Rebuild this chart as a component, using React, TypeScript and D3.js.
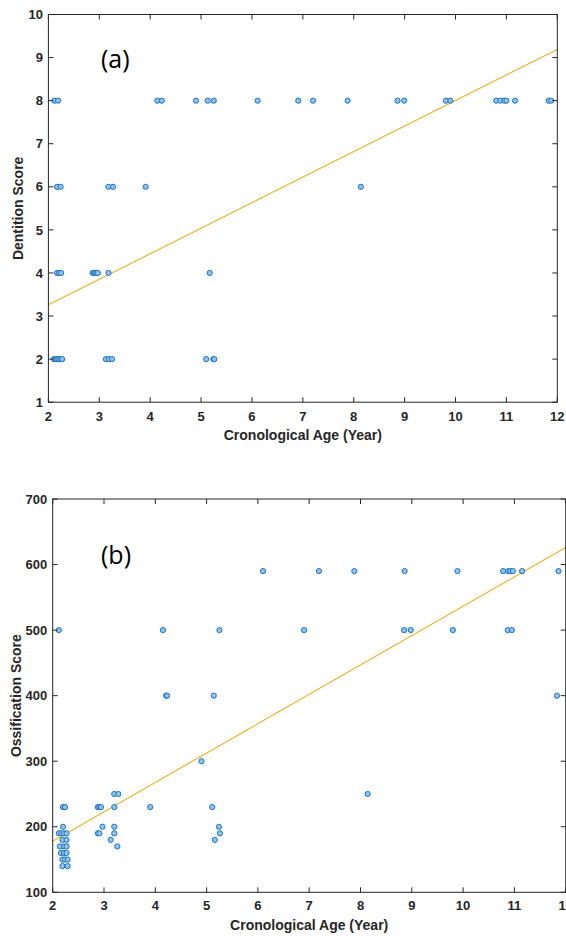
import React from "react";
import * as d3 from "d3";

// Panel (a): dentition score levels and the ages observed at each level
const dentitionLevels = [8, 6, 4, 2];
const dentitionAgesAt8 = [2.12, 2.19, 4.14, 4.23, 4.9, 5.13, 5.25, 6.11, 6.91, 7.2, 7.88, 8.86, 8.99, 9.81, 9.9, 10.8, 10.88, 10.96, 11.0, 11.17, 11.83, 11.88];
const dentitionAgesAt6 = [2.17, 2.24, 3.18, 3.27, 3.91, 8.14];
const dentitionAgesAt4 = [2.17, 2.21, 2.25, 2.87, 2.9, 2.92, 2.94, 2.97, 3.18, 5.17];
const dentitionAgesAt2 = [2.11, 2.14, 2.17, 2.2, 2.24, 2.27, 3.13, 3.19, 3.25, 5.1, 5.24, 5.26];

// Panel (b): ossification score levels and the ages observed at each level
const ossificationLevels = [590, 500, 400, 300, 250, 230, 200, 190, 180, 170, 160, 150, 140];
const ossificationAges = [
  [6.1, 7.19, 7.88, 8.86, 9.89, 10.78, 10.88, 10.92, 10.97, 11.15, 11.86],
  [2.12, 4.15, 5.25, 6.9, 8.85, 8.98, 9.8, 10.87, 10.95],
  [4.21, 4.23, 5.14, 11.83],
  [4.9],
  [3.2, 3.28, 8.14],
  [2.2, 2.24, 2.88, 2.91, 2.94, 3.2, 3.9, 5.11],
  [2.2, 2.97, 3.2, 5.24],
  [2.12, 2.17, 2.22, 2.27, 2.88, 2.91, 3.2, 5.26],
  [2.19, 2.27, 3.13, 5.16],
  [2.14, 2.22, 2.27, 3.26],
  [2.16, 2.22, 2.27],
  [2.19, 2.24, 2.29],
  [2.19, 2.29],
];

// Linear fits: value at age 2 and slope per year
const dentitionFit = { at2: 3.26, slope: 0.593 };
const ossificationFit = { at2: 178, slope: 44.8 };

const ageTicks = [2, 3, 4, 5, 6, 7, 8, 9, 10, 11, 12];
const dentitionTicks = [1, 2, 3, 4, 5, 6, 7, 8, 9, 10];
const ossificationTicks = [100, 200, 300, 400, 500, 600, 700];

type Pt = { age: number; score: number };

const dentitionPoints: Pt[] = [dentitionAgesAt8, dentitionAgesAt6, dentitionAgesAt4, dentitionAgesAt2].flatMap(
  (ages, i) => ages.map((age) => ({ age, score: dentitionLevels[i] }))
);
const ossificationPoints: Pt[] = ossificationAges.flatMap((ages, i) =>
  ages.map((age) => ({ age, score: ossificationLevels[i] }))
);

const AXIS = "#262626";
const FONT = "'Liberation Sans', Arial, sans-serif";

type PanelProps = {
  left: number;
  right: number;
  top: number;
  bottom: number;
  yDomain: [number, number];
  yTicks: number[];
  points: Pt[];
  fit: { at2: number; slope: number };
  yLabel: string;
  yLabelX: number;
  tag: string;
  tagX: number;
  tagY: number;
  tickLabelY: number;
  xLabelY: number;
};

function Panel(p: PanelProps) {
  const x = d3.scaleLinear().domain([2, 12]).range([p.left, p.right]);
  const y = d3.scaleLinear().domain(p.yDomain).range([p.bottom, p.top]);
  const tick = 5;
  const fitLine = d3
    .line<number>()
    .x((a) => x(a))
    .y((a) => y(p.fit.at2 + p.fit.slope * (a - 2)));
  const midY = (p.top + p.bottom) / 2;
  const midX = (p.left + p.right) / 2;
  return (
    <g>
      {/* fit line */}
      <path d={fitLine([2, 12]) || ""} fill="none" stroke="#EDB120" strokeWidth={1.1} />
      {/* points */}
      {p.points.map((d, i) => (
        <circle key={i} cx={x(d.age)} cy={y(d.score)} r={2.6} fill="#8fc3ec" stroke="#1c74c4" strokeWidth={1} />
      ))}
      {/* box */}
      <rect x={p.left} y={p.top} width={p.right - p.left} height={p.bottom - p.top} fill="none" stroke={AXIS} strokeWidth={1} />
      {/* x ticks */}
      {ageTicks.map((t) => (
        <g key={"x" + t}>
          <line x1={x(t)} x2={x(t)} y1={p.bottom} y2={p.bottom - tick} stroke={AXIS} />
          <line x1={x(t)} x2={x(t)} y1={p.top} y2={p.top + tick} stroke={AXIS} />
          <text x={x(t)} y={p.tickLabelY} textAnchor="middle" fontSize={13} fontWeight="bold" fill={AXIS} fontFamily={FONT}>
            {t}
          </text>
        </g>
      ))}
      {/* y ticks */}
      {p.yTicks.map((t) => (
        <g key={"y" + t}>
          <line x1={p.left} x2={p.left + tick} y1={y(t)} y2={y(t)} stroke={AXIS} />
          <line x1={p.right} x2={p.right - tick} y1={y(t)} y2={y(t)} stroke={AXIS} />
          <text x={p.left - 5.5} y={y(t)} dy="0.36em" textAnchor="end" fontSize={13} fontWeight="bold" fill={AXIS} fontFamily={FONT}>
            {t}
          </text>
        </g>
      ))}
      <text x={midX} y={p.xLabelY} textAnchor="middle" fontSize={14} fontWeight="bold" fill={AXIS} fontFamily={FONT}>
        Cronological Age (Year)
      </text>
      <text
        transform={`translate(${p.yLabelX},${midY}) rotate(-90)`}
        textAnchor="middle"
        fontSize={14}
        fontWeight="bold"
        fill={AXIS}
        fontFamily={FONT}
      >
        {p.yLabel}
      </text>
      <text x={p.tagX} y={p.tagY} fontSize={25} fill="#000" fontFamily="'Open Sans', 'Noto Sans', sans-serif">
        {p.tag}
      </text>
    </g>
  );
}

export default function App() {
  return (
    <svg
      width={566}
      height={936}
      viewBox="0 0 566 936"
      style={{ position: "absolute", left: 0, top: 0, background: "#fff" }}
    >
      <rect width={566} height={936} fill="#fff" />
      <Panel
        left={48.4}
        right={557.3}
        top={14.5}
        bottom={402.2}
        yDomain={[1, 10]}
        yTicks={dentitionTicks}
        points={dentitionPoints}
        fit={dentitionFit}
        yLabel="Dentition Score"
        yLabelX={23.3}
        tag="(a)"
        tagX={101}
        tagY={68}
        tickLabelY={421}
        xLabelY={440}
      />
      <Panel
        left={52.7}
        right={565.7}
        top={499}
        bottom={892.3}
        yDomain={[100, 700]}
        yTicks={ossificationTicks}
        points={ossificationPoints}
        fit={ossificationFit}
        yLabel="Ossification Score"
        yLabelX={20.5}
        tag="(b)"
        tagX={101}
        tagY={564}
        tickLabelY={910}
        xLabelY={930}
      />
    </svg>
  );
}
